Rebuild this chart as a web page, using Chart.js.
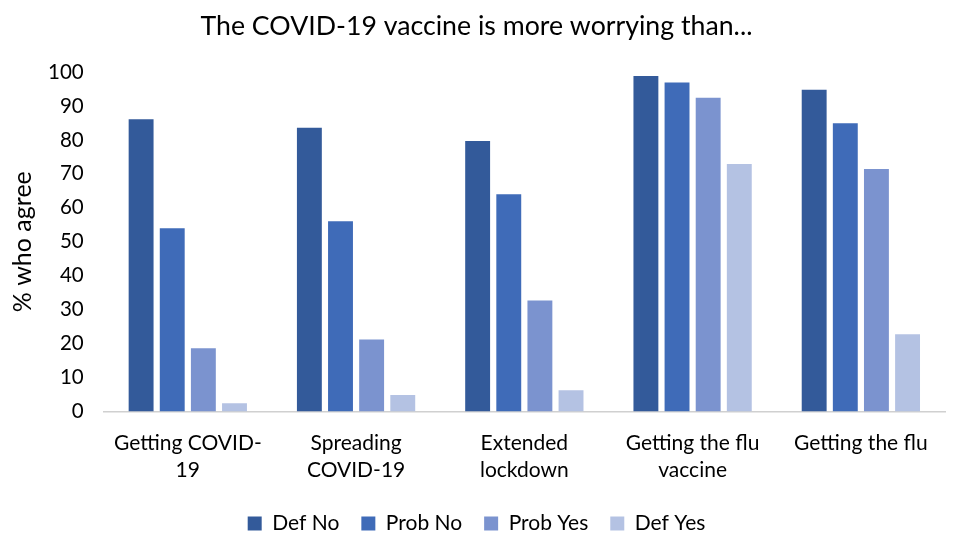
<!DOCTYPE html>
<html>
<head>
<meta charset="utf-8">
<script src="https://cdn.jsdelivr.net/npm/chart.js@4/dist/chart.umd.min.js"></script>
<style>
  html, body { margin: 0; padding: 0; background: #fff; }
  #wrap { width: 955px; height: 537px; position: relative; }
</style>
</head>
<body>
<div id="wrap"><canvas id="chart-canvas"></canvas></div>
<script>
// data
var categories = [
    ['Getting COVID-', '19'],
    ['Spreading', 'COVID-19'],
    ['Extended', 'lockdown'],
    ['Getting the flu', 'vaccine'],
    'Getting the flu'
]
var defNo   = [86.1, 83.6, 79.7, 98.8, 94.8]
var probNo  = [54.0, 56.0, 64.0, 96.9, 84.9]
var probYes = [18.6, 21.2, 32.7, 92.4, 71.4]
var defYes  = [2.4, 4.8, 6.2, 72.9, 22.7]
var yTicks  = [0, 10, 20, 30, 40, 50, 60, 70, 80, 90, 100]

var colors = ['#335A9A', '#3F6BB8', '#7B93CF', '#B4C2E3']

Chart.defaults.font.family = 'Lato, "Open Sans", sans-serif'
Chart.defaults.color = '#000'

var ctx = document.getElementById('chart-canvas').getContext('2d')

function ds(label, data, i) {
    return {
        label: label,
        data: data,
        backgroundColor: colors[i],
        borderWidth: 0,
        categoryPercentage: 0.74,
        barPercentage: 0.8
    }
}

var chart = new Chart(ctx, {
    type: 'bar',
    data: {
        labels: categories,
        datasets: [
            ds('Def No', defNo, 0),
            ds('Prob No', probNo, 1),
            ds('Prob Yes', probYes, 2),
            ds('Def Yes', defYes, 3)
        ]
    },
    options: {
        responsive: true,
        maintainAspectRatio: false,
        animation: false,
        layout: { padding: { left: 8, right: 10, top: 4, bottom: -7 } },
        plugins: {
            title: {
                display: true,
                text: 'The COVID-19 vaccine is more worrying than...',
                font: { size: 26.7, weight: 'normal' },
                color: '#000',
                padding: { top: 6, bottom: 30 }
            },
            legend: {
                position: 'bottom',
                labels: {
                    boxWidth: 14,
                    boxHeight: 14,
                    font: { size: 21 },
                    padding: 22
                }
            },
            tooltip: { enabled: false }
        },
        scales: {
            x: {
                grid: { display: false, drawTicks: false },
                border: { color: '#d0d0d0', width: 1.5 },
                ticks: { font: { size: 21, lineHeight: 1.3 }, padding: 18, maxRotation: 0, autoSkip: false },
                afterFit: function (scale) { scale.height -= 11 }
            },
            y: {
                min: 0,
                max: 100,
                afterBuildTicks: function (axis) {
                    axis.ticks = yTicks.map(function (v) { return { value: v } })
                },
                afterFit: function (scale) { scale.width -= 10 },
                grid: { display: false, drawTicks: false },
                border: { display: false },
                ticks: { font: { size: 20.5 }, padding: 20 },
                title: {
                    display: true,
                    text: '% who agree',
                    font: { size: 25 },
                    padding: { top: 0, bottom: 0 }
                }
            }
        }
    }
})
</script>
</body>
</html>
